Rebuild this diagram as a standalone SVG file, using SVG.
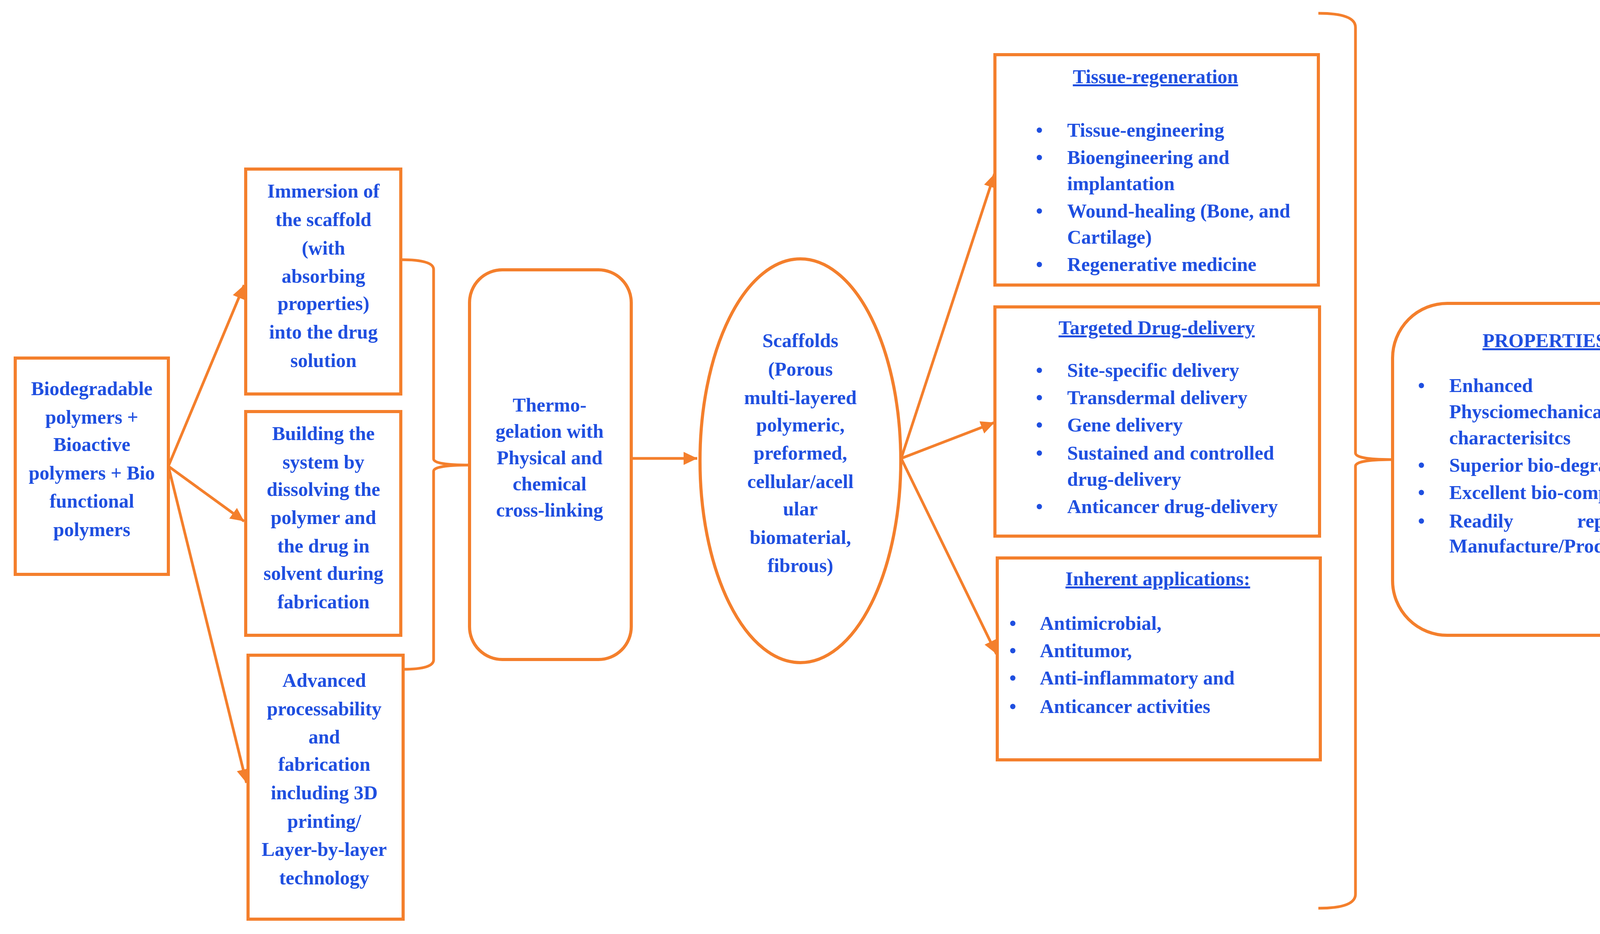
<svg xmlns="http://www.w3.org/2000/svg" width="4384" height="2392" viewBox="0 0 4384 2392">
<defs>
<marker id="ah" markerWidth="6" markerHeight="6" refX="5" refY="3" orient="auto" markerUnits="strokeWidth"><path d="M0,0.6 L5,3 L0,5.4 Z" fill="#F47F2C"/></marker>
<style>
.b{fill:#fff;stroke:#F47F2C;stroke-width:8}
.c{fill:none;stroke:#F47F2C;stroke-width:7}
.t{font-family:"Liberation Serif",serif;font-weight:bold;font-size:50px;fill:#1F4FE0}
.m{text-anchor:middle}
.u{text-decoration:underline}
</style>
</defs>
<rect width="4384" height="2392" fill="#fff"/>
<g id="connectors">
<path class="c" d="M431,1194 L625,730" marker-end="url(#ah)"/>
<path class="c" d="M431,1194 L625,1335" marker-end="url(#ah)"/>
<path class="c" d="M431,1194 L631,2005" marker-end="url(#ah)"/>
<path class="c" d="M1026,665 Q1110,665 1110,690 L1110,1175 Q1110,1191 1202,1191 Q1110,1191 1110,1207 L1110,1690 Q1110,1714 1032,1714"/>
<path class="c" d="M1616,1174 L1785,1174" marker-end="url(#ah)"/>
<path class="c" d="M2307,1174 L2546,445" marker-end="url(#ah)"/>
<path class="c" d="M2307,1174 L2546,1082" marker-end="url(#ah)"/>
<path class="c" d="M2307,1174 L2551,1675" marker-end="url(#ah)"/>
<path class="c" d="M3375,34 Q3470,34 3470,70 L3470,1160 Q3470,1177 3565,1177 Q3470,1177 3470,1194 L3470,2290 Q3470,2326 3375,2326"/>
</g>
<g id="n1"><rect class="b" x="39" y="917" width="392" height="554"/>
<text class="t m" x="235"><tspan x="235" y="1012">Biodegradable</tspan><tspan x="235" y="1085">polymers +</tspan><tspan x="235" y="1155">Bioactive</tspan><tspan x="235" y="1228">polymers + Bio</tspan><tspan x="235" y="1300">functional</tspan><tspan x="235" y="1373">polymers</tspan></text></g>
<g id="n2"><rect class="b" x="629" y="433" width="397" height="576"/>
<text class="t m"><tspan x="828" y="506">Immersion of</tspan><tspan x="828" y="579">the scaffold</tspan><tspan x="828" y="652">(with</tspan><tspan x="828" y="724">absorbing</tspan><tspan x="828" y="794">properties)</tspan><tspan x="828" y="867">into the drug</tspan><tspan x="828" y="940">solution</tspan></text></g>
<g id="n3"><rect class="b" x="629" y="1054" width="397" height="573"/>
<text class="t m"><tspan x="828" y="1127">Building the</tspan><tspan x="828" y="1200">system by</tspan><tspan x="828" y="1270">dissolving the</tspan><tspan x="828" y="1342">polymer and</tspan><tspan x="828" y="1415">the drug in</tspan><tspan x="828" y="1485">solvent during</tspan><tspan x="828" y="1558">fabrication</tspan></text></g>
<g id="n4"><rect class="b" x="635" y="1678" width="397" height="676"/>
<text class="t m"><tspan x="830" y="1759">Advanced</tspan><tspan x="830" y="1832">processability</tspan><tspan x="830" y="1904">and</tspan><tspan x="830" y="1974">fabrication</tspan><tspan x="830" y="2047">including 3D</tspan><tspan x="830" y="2120">printing/</tspan><tspan x="830" y="2192">Layer-by-layer</tspan><tspan x="830" y="2265">technology</tspan></text></g>
<g id="n5"><rect class="b" x="1202" y="691" width="414" height="998" rx="84"/>
<text class="t m"><tspan x="1407" y="1054">Thermo-</tspan><tspan x="1407" y="1121">gelation with</tspan><tspan x="1407" y="1189">Physical and</tspan><tspan x="1407" y="1256">chemical</tspan><tspan x="1407" y="1323">cross-linking</tspan></text></g>
<g id="n6"><ellipse class="b" cx="2049" cy="1180" rx="257" ry="517"/>
<text class="t m"><tspan x="2049" y="889">Scaffolds</tspan><tspan x="2049" y="962">(Porous</tspan><tspan x="2049" y="1035">multi-layered</tspan><tspan x="2049" y="1105">polymeric,</tspan><tspan x="2049" y="1177">preformed,</tspan><tspan x="2049" y="1250">cellular/acell</tspan><tspan x="2049" y="1320">ular</tspan><tspan x="2049" y="1393">biomaterial,</tspan><tspan x="2049" y="1465">fibrous)</tspan></text></g>
<g id="n7"><rect class="b" x="2547" y="140" width="828" height="590"/>
<text class="t m u" x="2958" y="213">Tissue-regeneration</text>
<text class="t"><tspan x="2652" y="350">•</tspan><tspan x="2732" y="350">Tissue-engineering</tspan><tspan x="2652" y="420">•</tspan><tspan x="2732" y="420">Bioengineering and</tspan><tspan x="2732" y="487">implantation</tspan><tspan x="2652" y="557">•</tspan><tspan x="2732" y="557">Wound-healing (Bone, and</tspan><tspan x="2732" y="624">Cartilage)</tspan><tspan x="2652" y="694">•</tspan><tspan x="2732" y="694">Regenerative medicine</tspan></text></g>
<g id="n8"><rect class="b" x="2547" y="786" width="831" height="587"/>
<text class="t m u" x="2961" y="856">Targeted Drug-delivery</text>
<text class="t"><tspan x="2652" y="965">•</tspan><tspan x="2732" y="965">Site-specific delivery</tspan><tspan x="2652" y="1035">•</tspan><tspan x="2732" y="1035">Transdermal delivery</tspan><tspan x="2652" y="1105">•</tspan><tspan x="2732" y="1105">Gene delivery</tspan><tspan x="2652" y="1177">•</tspan><tspan x="2732" y="1177">Sustained and controlled</tspan><tspan x="2732" y="1244">drug-delivery</tspan><tspan x="2652" y="1314">•</tspan><tspan x="2732" y="1314">Anticancer drug-delivery</tspan></text></g>
<g id="n9"><rect class="b" x="2553" y="1429" width="827" height="517"/>
<text class="t m u" x="2964" y="1499">Inherent applications:</text>
<text class="t"><tspan x="2584" y="1613">•</tspan><tspan x="2662" y="1613">Antimicrobial,</tspan><tspan x="2584" y="1683">•</tspan><tspan x="2662" y="1683">Antitumor,</tspan><tspan x="2584" y="1753">•</tspan><tspan x="2662" y="1753">Anti-inflammatory and</tspan><tspan x="2584" y="1826">•</tspan><tspan x="2662" y="1826">Anticancer activities</tspan></text></g>
<g id="n10"><rect class="b" x="3565" y="777" width="788" height="850" rx="140"/>
<text class="t m u" x="3954" y="889">PROPERTIES</text>
<text class="t"><tspan x="3630" y="1004">•</tspan><tspan x="3710" y="1004">Enhanced</tspan><tspan x="3710" y="1071">Physciomechanical</tspan><tspan x="3710" y="1138">characterisitcs</tspan><tspan x="3630" y="1208">•</tspan><tspan x="3710" y="1208">Superior bio-degradability</tspan><tspan x="3630" y="1278">•</tspan><tspan x="3710" y="1278">Excellent bio-compatibility</tspan><tspan x="3630" y="1351">•</tspan><tspan x="3710" y="1351">Readily</tspan><tspan x="3710" y="1415">Manufacture/Production</tspan></text>
<text class="t" x="4283" y="1351" text-anchor="end">reproduced</text></g>
</svg>
